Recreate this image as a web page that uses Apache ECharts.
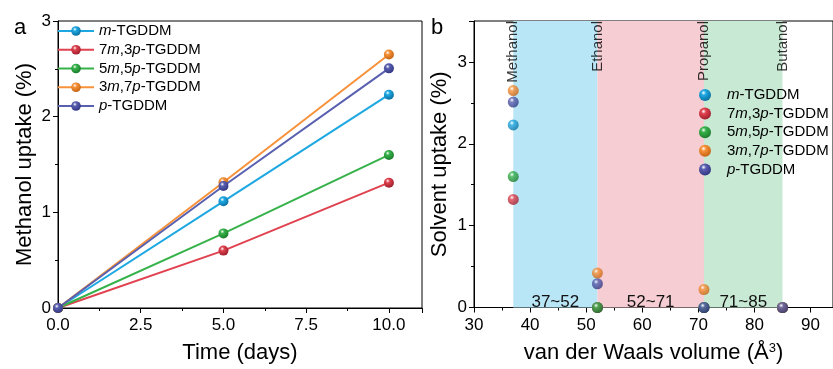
<!DOCTYPE html>
<html><head><meta charset="utf-8">
<script src="https://cdn.jsdelivr.net/npm/echarts@6/dist/echarts.min.js"></script>
<style>html,body{margin:0;padding:0;background:#fff}#c{width:833px;height:369px}</style>
</head><body><div id="c"></div>
<script>
// ---- data ----
var seriesNames = ['m-TGDDM','7m,3p-TGDDM','5m,5p-TGDDM','3m,7p-TGDDM','p-TGDDM'];
var legendRich = ['{i|m}-TGDDM','7{i|m},3{i|p}-TGDDM','5{i|m},5{i|p}-TGDDM','3{i|m},7{i|p}-TGDDM','{i|p}-TGDDM'];
var days = [0, 5, 10];
var uptakeM    = [0, 1.115, 2.23];
var uptake73   = [0, 0.60, 1.31];
var uptake55   = [0, 0.78, 1.60];
var uptake37   = [0, 1.315, 2.65];
var uptakeP    = [0, 1.275, 2.505];
var vdwVolumes = [37, 52, 71, 85];
var solventNames = ['Methanol','Ethanol','Propanol','Butanol'];
var solventM  = [2.23, 0, 0, 0];
var solvent73 = [1.32, 0, 0, 0];
var solvent55 = [1.60, 0, 0, 0];
var solvent37 = [2.65, 0.42, 0.22, 0];
var solventP  = [2.51, 0.29, 0, 0];
var bandRanges = [[37,52],[52,71],[71,85]];
var bandLabels = ['37~52','52~71','71~85'];

var colors = ['#1ea8e2','#e0424f','#36b24a','#f7923a','#5a60b0'];
var darks  = ['#0a6d9e','#9c1c2a','#1a7a2c','#c2600f','#2e3480'];
var bandColors = ['#b9e6f6','#f5cdd2','#c8e9d3'];

function sphere(i){
  return new echarts.graphic.RadialGradient(0.38,0.32,0.72,[
    {offset:0,color:'#ffffff'},{offset:0.28,color:colors[i]},{offset:1,color:darks[i]}]);
}
var leftData = [uptakeM, uptake73, uptake55, uptake37, uptakeP];
var rightData = [solventM, solvent73, solvent55, solvent37, solventP];
var FONT = 'Liberation Sans, Arial, sans-serif';

var series = [];
leftData.forEach(function(arr, i){
  series.push({
    type:'line', name:seriesNames[i], xAxisIndex:0, yAxisIndex:0,
    data: days.map(function(d,k){return [d, arr[k]];}),
    symbol:'circle', symbolSize:10, showAllSymbol:true,
    lineStyle:{color:colors[i], width:2},
    itemStyle:{color:sphere(i)}, z:3+i
  });
});
// bands
series.push({
  type:'line', xAxisIndex:1, yAxisIndex:1, data:[], z:1, silent:true,
  markArea:{silent:true,
    label:{show:true, position:'insideBottom', distance:0, offset:[0,3], color:'#111', fontSize:17, fontFamily:FONT},
    data: bandRanges.map(function(r,i){
      return [{xAxis:r[0], name:bandLabels[i], itemStyle:{color:bandColors[i], opacity:1}},{xAxis:r[1]}];
    })
  }
});
// solvent names
series.push({
  type:'scatter', xAxisIndex:1, yAxisIndex:1, symbolSize:0, z:2, silent:true,
  data: vdwVolumes.map(function(v,i){return {value:[v, 3.5], name:solventNames[i]};}),
  label:{show:true, formatter:'{b}', position:'inside', rotate:90, align:'right', verticalAlign:'middle',
    color:'#000', fontSize:15, fontFamily:FONT}
});
rightData.forEach(function(arr, i){
  series.push({
    type:'scatter', name:seriesNames[i], xAxisIndex:1, yAxisIndex:1,
    data: vdwVolumes.map(function(v,k){return [v, arr[k]];}),
    symbol:'circle', symbolSize:11, itemStyle:{color:sphere(i)}, z:5+i, clip:false
  });
});

function ax(extra, labelExtra){
  var a = {
    axisLine:{show:true, onZero:false, lineStyle:{color:'#000', width:1}},
    axisTick:{show:true, inside:false, length:5, lineStyle:{color:'#000'}},
    minorTick:{show:true, splitNumber:2, length:3, lineStyle:{color:'#000'}},
    splitLine:{show:false},
    axisLabel:Object.assign({color:'#000', fontSize:17, fontFamily:FONT, showMaxLabel:false, margin:7}, labelExtra||{}),
    nameTextStyle:{color:'#000', fontSize:22, fontFamily:FONT},
    nameLocation:'middle'
  };
  return Object.assign(a, extra);
}

var richI = {i:{fontStyle:'italic', fontSize:15, color:'#000', fontFamily:FONT, lineHeight:15}};
var legendFmt = function(name){ return legendRich[seriesNames.indexOf(name)]; };

var option = {
  animation:false,
  backgroundColor:'#fff',
  grid:[
    {left:58, top:21, right:411, bottom:54, show:true, borderColor:'#000', borderWidth:1, backgroundColor:'transparent'},
    {left:474, top:21, right:0, bottom:54, show:true, borderColor:'#000', borderWidth:1, backgroundColor:'transparent'}
  ],
  xAxis:[
    ax({type:'value', gridIndex:0, min:0, max:11, interval:2.5, name:'Time (days)', nameGap:34},
       {margin:9, formatter:function(v){return v.toFixed(1);}}),
    ax({type:'value', gridIndex:1, min:30, max:94, interval:10, nameGap:34,
       name:'van der Waals volume (Å{s|3})',
       nameTextStyle:{color:'#000', fontSize:22, fontFamily:FONT, rich:{s:{fontSize:13, verticalAlign:'top', padding:[0,0,10,0], color:'#000', fontFamily:FONT}}}},
       {margin:9})
  ],
  yAxis:[
    ax({type:'value', gridIndex:0, min:0, max:3, interval:1, name:'Methanol uptake (%)', nameGap:22}, {showMaxLabel:true}),
    ax({type:'value', gridIndex:1, min:0, max:3.5, interval:1, name:'Solvent uptake (%)', nameGap:23})
  ],
  legend:[
    {left:57, top:23.5, padding:0, orient:'vertical', itemWidth:36, itemHeight:12, itemGap:3.75,
     data:seriesNames, formatter:legendFmt,
     textStyle:{color:'#000', fontSize:15, lineHeight:15, fontFamily:FONT, rich:richI}},
    {left:699, top:87.5, padding:0, orient:'vertical', itemWidth:28, itemHeight:12, itemGap:3.6,
     data:seriesNames.map(function(n){return {name:n, icon:'circle'};}), formatter:legendFmt,
     textStyle:{color:'#000', fontSize:15, lineHeight:15, fontFamily:FONT, rich:richI, padding:[0,0,0,3]}}
  ],
  graphic:[
    {type:'text', left:14, top:17, style:{text:'a', fontSize:22, fontFamily:FONT, fill:'#000'}},
    {type:'text', left:431, top:17, style:{text:'b', fontSize:22, fontFamily:FONT, fill:'#000'}}
  ],
  series:series
};
var chart = echarts.init(document.getElementById('c'), null, {renderer:'canvas'});
chart.setOption(option);
</script></body></html>
